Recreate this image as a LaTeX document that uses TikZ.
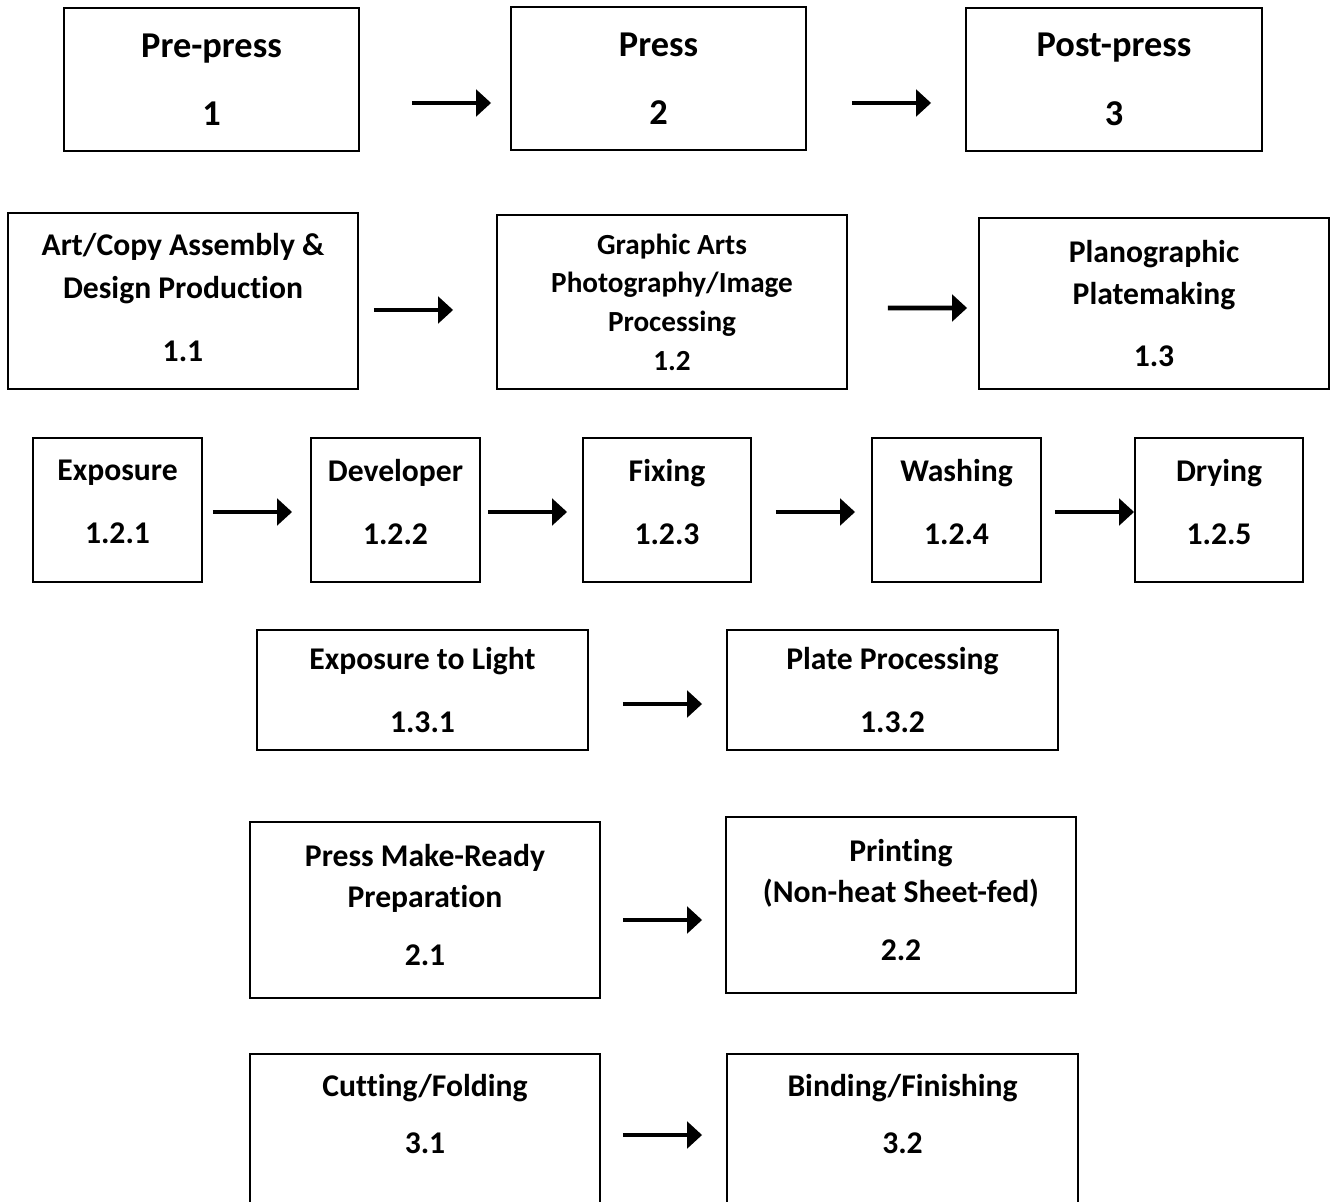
\documentclass[tikz,border=0pt]{standalone}
\usepackage{fontspec}
\setmainfont{Carlito}[Ligatures=NoCommon]
\usetikzlibrary{arrows.meta,calc}

\tikzset{
  stage/.style={draw, line width=1.1pt, align=center, inner sep=0pt, font=\bfseries\fontsize{18}{24}\selectfont},
  topstage/.style={stage, font=\bfseries\fontsize{20.7}{25}\selectfont},
  smallstage/.style={stage, font=\bfseries\fontsize{16.6}{22}\selectfont},
  flow/.style={line width=2.8pt, -{Triangle[length=8.5pt,width=15pt]}}
}

\begin{document}
\begin{tikzpicture}[x=0.02cm, y=-0.02cm]
        \clip (0,0) rectangle (1331,1202);
        % main stages
        \node[topstage, minimum width=5.9cm, minimum height=2.86cm] (prepress) at (211.5,79.5) {Pre-press\\[14pt]1};
        \node[topstage, minimum width=5.9cm, minimum height=2.86cm] (press) at (658.5,78.5) {Press\\[14pt]2};
        \node[topstage, minimum width=5.92cm, minimum height=2.86cm] (postpress) at (1114,79.5) {Post-press\\[14pt]3};
        % pre-press steps
        \node[stage, minimum width=7cm, minimum height=3.52cm] (artcopy) at (183,301) {Art/Copy Assembly \&\\Design Production\\[12pt]1.1\\[-20pt]\mbox{}};
        \node[smallstage, minimum width=7cm, minimum height=3.48cm] (photo) at (672,302) {Graphic Arts\\Photography/Image\\Processing\\1.2};
        \node[stage, minimum width=7cm, minimum height=3.42cm] (plano) at (1154,303.5) {Planographic\\Platemaking\\[11.5pt]1.3};
        % photography steps
        \node[stage, minimum width=3.38cm, minimum height=2.88cm] (exposure) at (117.5,510) {Exposure\\[12pt]1.2.1\\[-15pt]\mbox{}};
        \node[stage, minimum width=3.38cm, minimum height=2.88cm] (developer) at (395.5,510) {Developer\\[12pt]1.2.2\\[-15pt]\mbox{}};
        \node[stage, minimum width=3.36cm, minimum height=2.88cm] (fixing) at (667,510) {Fixing\\[12pt]1.2.3\\[-15pt]\mbox{}};
        \node[stage, minimum width=3.38cm, minimum height=2.88cm] (washing) at (956.5,510) {Washing\\[12pt]1.2.4\\[-15pt]\mbox{}};
        \node[stage, minimum width=3.36cm, minimum height=2.88cm] (drying) at (1219,510) {Drying\\[12pt]1.2.5\\[-15pt]\mbox{}};
        % platemaking steps
        \node[stage, minimum width=6.62cm, minimum height=2.4cm] (light) at (422.5,690) {Exposure to Light\\[12pt]1.3.1};
        \node[stage, minimum width=6.62cm, minimum height=2.4cm] (plate) at (892.5,690) {Plate Processing\\[12pt]1.3.2};
        % press steps
        \node[stage, minimum width=7cm, minimum height=3.52cm, font=\bfseries\fontsize{18}{23}\selectfont] (makeready) at (425,910) {Press Make-Ready\\Preparation\\[10pt]2.1\\[-17pt]\mbox{}};
        \node[stage, minimum width=7cm, minimum height=3.52cm, font=\bfseries\fontsize{18}{23}\selectfont] (printing) at (901,905) {Printing\\(Non-heat Sheet-fed)\\[10pt]2.2\\[-17pt]\mbox{}};
        % post-press steps
        \node[stage, minimum width=7cm, minimum height=3.52cm] (cutting) at (425,1142) {Cutting/Folding\\[9pt]3.1\\[8pt]\mbox{}};
        \node[stage, minimum width=7.02cm, minimum height=3.52cm] (binding) at (902.5,1142) {Binding/Finishing\\[9pt]3.2\\[8pt]\mbox{}};

        \path[draw,flow,shorten <=1.04cm,shorten >=0.38cm] ($(prepress.east)+(0,23.5)$) -- ($(press.west)+(0,24.5)$);
        \path[draw,flow,shorten <=0.9cm,shorten >=0.68cm] ($(press.east)+(0,24.5)$) -- ($(postpress.west)+(0,23.5)$);
        \path[draw,flow,shorten <=0.3cm,shorten >=0.86cm] ($(artcopy.east)+(0,9)$) -- ($(photo.west)+(0,8)$);
        \path[draw,flow,shorten <=0.8cm,shorten >=0.22cm] ($(photo.east)+(0,6)$) -- ($(plano.west)+(0,4.5)$);
        \path[draw,flow,shorten <=0.2cm,shorten >=0.36cm] ($(exposure.east)+(0,2)$) -- ($(developer.west)+(0,2)$);
        \path[draw,flow,shorten <=0.14cm,shorten >=0.3cm] ($(developer.east)+(0,2)$) -- ($(fixing.west)+(0,2)$);
        \path[draw,flow,shorten <=0.48cm,shorten >=0.32cm] ($(fixing.east)+(0,2)$) -- ($(washing.west)+(0,2)$);
        \path[draw,flow,shorten <=0.26cm] ($(washing.east)+(0,2)$) -- ($(drying.west)+(0,2)$);
        \path[draw,flow,shorten <=0.68cm,shorten >=0.48cm] ($(light.east)+(0,14)$) -- ($(plate.west)+(0,14)$);
        \path[draw,flow,shorten <=0.44cm,shorten >=0.46cm] ($(makeready.east)+(0,10)$) -- ($(printing.west)+(0,15)$);
        \path[draw,flow,shorten <=0.44cm,shorten >=0.48cm] ($(cutting.east)+(0,-7)$) -- ($(binding.west)+(0,-7)$);
\end{tikzpicture}
\end{document}
